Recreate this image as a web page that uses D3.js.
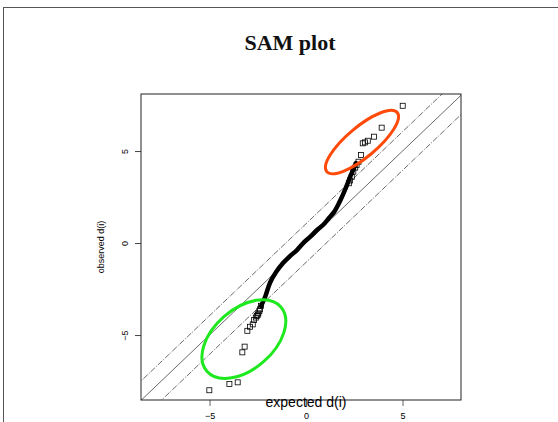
<!DOCTYPE html>
<html>
<meta charset="utf-8">
  <head>
    <script src="https://d3js.org/d3.v7.min.js"></script>
    <style>
      body { margin: 0; background: #fff; }
    </style>
  </head>
  <body>
    <div id="sam_plot"></div>
    <script>

    // expected vs observed d(i): the dense middle of the genes, traced as a band
    var bandExpected = [-2.33, -2.12, -1.87, -1.55, -1.19, -0.83, -0.47, -0.10, 0.21, 0.57, 0.88, 1.19, 1.45, 1.66, 1.81, 1.97, 2.12, 2.28, 2.44, 2.59];
    var bandObserved = [-3.42, -2.93, -2.17, -1.58, -1.09, -0.71, -0.38, 0.05, 0.33, 0.71, 0.98, 1.36, 1.68, 2.07, 2.39, 2.77, 3.15, 3.59, 3.97, 4.35];

    // single genes in the two tails
    var tailExpected = [-5.01, -3.97, -3.54, -3.30, -3.18, -3.04, -2.90, -2.76, -2.69, -2.60, -2.55, -2.50, -2.47, -2.42, -2.38, -2.33,
                        2.22, 2.28, 2.37, 2.45, 2.55, 2.62, 2.72, 2.85, 2.94, 3.06, 3.20, 3.52, 3.92, 5.01];
    var tailObserved = [-8.00, -7.66, -7.57, -5.94, -5.63, -4.77, -4.55, -4.42, -4.18, -4.05, -3.97, -3.90, -3.82, -3.70, -3.60, -3.41,
                        3.25, 3.40, 3.60, 3.88, 4.10, 4.24, 4.42, 4.78, 5.42, 5.47, 5.56, 5.78, 6.27, 7.46];

    // delta band around the 45 degree line
    var lineOffsets = [-1.05, 0, 1.05];
    var xTicks = [-5, 0, 5];
    var yTicks = [-5, 0, 5];

    // highlighted groups: centre (data units), radii (px), tilt (deg)
    var ringNames = ["up", "down"];
    var ringCx = [2.90, -3.22];
    var ringCy = [5.49, -5.22];
    var ringRx = [46, 49];
    var ringRy = [15, 30];
    var ringTilt = [-40, -41];
    var ringColor = ["#ff4a0a", "#1ee81e"];

    var W = 558, H = 422;
    var box = {left: 141, right: 461, top: 94, bottom: 400};

    var svg = d3.select("#sam_plot")
      .append("svg")
        .attr("width", W)
        .attr("height", H)
        .style("display", "block");

    // page frame
    svg.append("rect")
        .attr("x", 3.5).attr("y", 7.5)
        .attr("width", 700).attr("height", 600)
        .attr("fill", "none")
        .attr("stroke", "#555")
        .attr("stroke-width", 1);

    svg.append("text")
        .attr("x", 290)
        .attr("y", 50)
        .attr("text-anchor", "middle")
        .style("font-family", "'Liberation Serif', 'DejaVu Serif', serif")
        .style("font-weight", "bold")
        .style("font-size", "22px")
        .attr("fill", "#111")
        .text("SAM plot");

    var x = d3.scaleLinear().domain([-8.55, 8.03]).range([box.left, box.right]);
    var y = d3.scaleLinear().domain([-8.53, 8.10]).range([box.bottom, box.top]);

    svg.append("clipPath").attr("id", "plotArea")
      .append("rect")
        .attr("x", box.left).attr("y", box.top)
        .attr("width", box.right - box.left)
        .attr("height", box.bottom - box.top);

    var plot = svg.append("g").attr("clip-path", "url(#plotArea)");

    // y = x and y = x +/- delta
    var xd = x.domain();
    plot.selectAll("line.ref")
      .data(lineOffsets)
      .enter()
      .append("line")
        .attr("class", "ref")
        .attr("x1", x(xd[0] - 1))
        .attr("y1", function(d) { return y(xd[0] - 1 + d); })
        .attr("x2", x(xd[1] + 1))
        .attr("y2", function(d) { return y(xd[1] + 1 + d); })
        .attr("stroke", "#444")
        .attr("stroke-width", 0.8)
        .attr("stroke-dasharray", function(d) { return d === 0 ? null : "6,1.5,1,1.5"; });

    // the bulk of the genes, drawn as one thick band
    var band = bandExpected.map(function(v, i) { return [v, bandObserved[i]]; });
    plot.append("path")
        .datum(band)
        .attr("fill", "none")
        .attr("stroke", "#000")
        .attr("stroke-width", 4.5)
        .attr("stroke-linecap", "round")
        .attr("stroke-linejoin", "round")
        .attr("d", d3.line()
          .x(function(d) { return x(d[0]); })
          .y(function(d) { return y(d[1]); })
          .curve(d3.curveCatmullRom));

    var tails = tailExpected.map(function(v, i) { return [v, tailObserved[i]]; });
    plot.selectAll("rect.gene")
      .data(tails)
      .enter()
      .append("rect")
        .attr("class", "gene")
        .attr("x", function(d) { return x(d[0]) - 2.5; })
        .attr("y", function(d) { return y(d[1]) - 2.5; })
        .attr("width", 5)
        .attr("height", 5)
        .attr("fill", "none")
        .attr("stroke", "#000")
        .attr("stroke-width", 0.8);

    // x axis
    var gx = svg.append("g")
        .attr("transform", "translate(0," + box.bottom + ")")
        .call(d3.axisBottom(x).tickValues(xTicks).tickSize(6).tickPadding(7).tickFormat(d3.format("d")));
    gx.select(".domain").remove();
    gx.selectAll("line").attr("stroke", "#666");
    gx.selectAll("text")
        .style("font-family", "'Liberation Sans', Arial, sans-serif")
        .style("font-size", "9px")
        .attr("fill", "#000");

    // y axis, labels turned to run along the axis
    var gy = svg.append("g")
        .attr("transform", "translate(" + box.left + ",0)")
        .call(d3.axisLeft(y).tickValues(yTicks).tickSize(6).tickFormat(d3.format("d")));
    gy.select(".domain").remove();
    gy.selectAll("line").attr("stroke", "#444");
    gy.selectAll("text")
        .attr("x", null)
        .attr("dy", null)
        .attr("text-anchor", "middle")
        .attr("transform", "translate(-13,0) rotate(-90)")
        .style("font-family", "'Liberation Sans', Arial, sans-serif")
        .style("font-size", "9px")
        .attr("fill", "#000");

    // plot box
    svg.append("rect")
        .attr("x", box.left).attr("y", box.top)
        .attr("width", box.right - box.left)
        .attr("height", box.bottom - box.top)
        .attr("fill", "none")
        .attr("stroke", "#222")
        .attr("stroke-width", 1);

    // circled groups of significant genes
    svg.selectAll("ellipse.ring")
      .data(ringNames)
      .enter()
      .append("ellipse")
        .attr("class", "ring")
        .attr("transform", function(d, i) {
          return "translate(" + x(ringCx[i]) + "," + y(ringCy[i]) + ") rotate(" + ringTilt[i] + ")";
        })
        .attr("rx", function(d, i) { return ringRx[i]; })
        .attr("ry", function(d, i) { return ringRy[i]; })
        .attr("fill", "none")
        .attr("stroke", function(d, i) { return ringColor[i]; })
        .attr("stroke-width", 3);

    svg.append("text")
        .attr("transform", "translate(104," + ((box.top + box.bottom) / 2) + ") rotate(-90)")
        .attr("text-anchor", "middle")
        .style("font-family", "'Liberation Sans', Arial, sans-serif")
        .style("font-size", "9px")
        .text("observed d(i)");

    svg.append("text")
        .attr("x", 306)
        .attr("y", 407)
        .attr("text-anchor", "middle")
        .style("font-family", "'Liberation Sans', Arial, sans-serif")
        .style("font-size", "14px")
        .text("expected d(i)");

    </script>
  </body>
</html>
